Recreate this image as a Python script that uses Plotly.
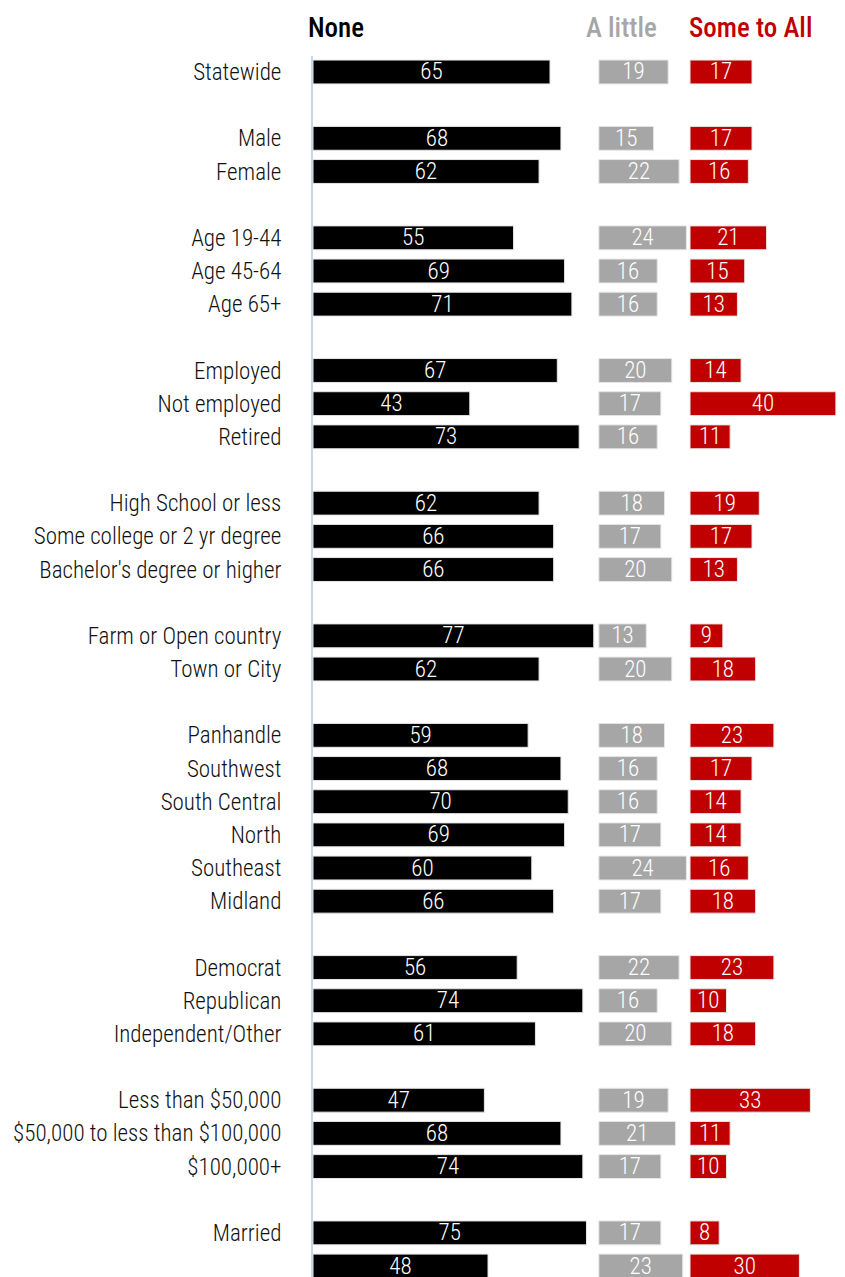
import plotly.graph_objects as go

# Row labels ("" = spacer row between groups)
labels = [
    "Statewide", "",
    "Male", "Female", "",
    "Age 19-44", "Age 45-64", "Age 65+", "",
    "Employed", "Not employed", "Retired", "",
    "High School or less", "Some college or 2 yr degree", "Bachelor's degree or higher", "",
    "Farm or Open country", "Town or City", "",
    "Panhandle", "Southwest", "South Central", "North", "Southeast", "Midland", "",
    "Democrat", "Republican", "Independent/Other", "",
    "Less than $50,000", "$50,000 to less than $100,000", "$100,000+", "",
    "Married", "Not married",
]
none_vals = [
    65, None,
    68, 62, None,
    55, 69, 71, None,
    67, 43, 73, None,
    62, 66, 66, None,
    77, 62, None,
    59, 68, 70, 69, 60, 66, None,
    56, 74, 61, None,
    47, 68, 74, None,
    75, 48,
]
little_vals = [
    19, None,
    15, 22, None,
    24, 16, 16, None,
    20, 17, 16, None,
    18, 17, 20, None,
    13, 20, None,
    18, 16, 16, 17, 24, 17, None,
    22, 16, 20, None,
    19, 21, 17, None,
    17, 23,
]
some_vals = [
    17, None,
    17, 16, None,
    21, 15, 13, None,
    14, 40, 11, None,
    19, 17, 13, None,
    9, 18, None,
    23, 17, 14, 14, 16, 18, None,
    23, 10, 18, None,
    33, 11, 10, None,
    8, 30,
]
series_names = ["None", "A little", "Some to All"]
series_colors = ["#000000", "#a6a6a6", "#c00000"]

FONT = "'Roboto Condensed', 'Liberation Sans Narrow', 'DejaVu Sans Condensed', sans-serif"
LITTLE_BASE = 78.4
SOME_BASE = 103.4

ypos = list(range(len(labels)))
fig = go.Figure()
for vals, base, color in [(none_vals, 0, series_colors[0]),
                          (little_vals, LITTLE_BASE, series_colors[1]),
                          (some_vals, SOME_BASE, series_colors[2])]:
    fig.add_trace(go.Bar(
        y=ypos, x=vals, base=base, orientation="h",
        marker=dict(color=color, line=dict(color="#e6e6e6", width=1)),
        width=0.72,
        text=[("" if v is None else str(v)) for v in vals],
        textposition="inside", insidetextanchor="middle",
        constraintext="none", textangle=0,
        textfont=dict(color="white", size=23, family=FONT, weight=300),
        hoverinfo="skip", showlegend=False,
    ))

tickvals = [i for i, l in enumerate(labels) if l]
ticktext = [l for l in labels if l]

# page body has an 8px margin; figure is sized so the plot lands at page x=313, y=56
fig.update_layout(
    width=837, height=1269,
    margin=dict(l=305, r=0, t=48, b=0, autoexpand=False),
    paper_bgcolor="white", plot_bgcolor="white",
    barmode="overlay",
    font=dict(family=FONT, color="#111111"),
    xaxis=dict(range=[0, 145.9], showgrid=False, zeroline=False,
               showticklabels=False, showline=False, fixedrange=True),
    yaxis=dict(range=[36.33, -0.482], tickmode="array", tickvals=tickvals,
               ticktext=ticktext, showgrid=False, zeroline=False,
               showline=True, linecolor="#c9d7ee", linewidth=2,
               ticks="", ticklabelstandoff=25,
               tickfont=dict(size=23, family=FONT, color="#111111", weight=300)),
)

header_x = [306, 584, 687]
for name, color, px in zip(series_names, series_colors, header_x):
    fig.add_annotation(
        text=name, xref="paper", yref="paper",
        x=(px - 313) / 532, y=1 + (56 - 28) / 1221,
        xanchor="left", yanchor="middle", showarrow=False,
        font=dict(size=27, color=color, family=FONT, weight=500),
    )

fig.write_html("out.html")
